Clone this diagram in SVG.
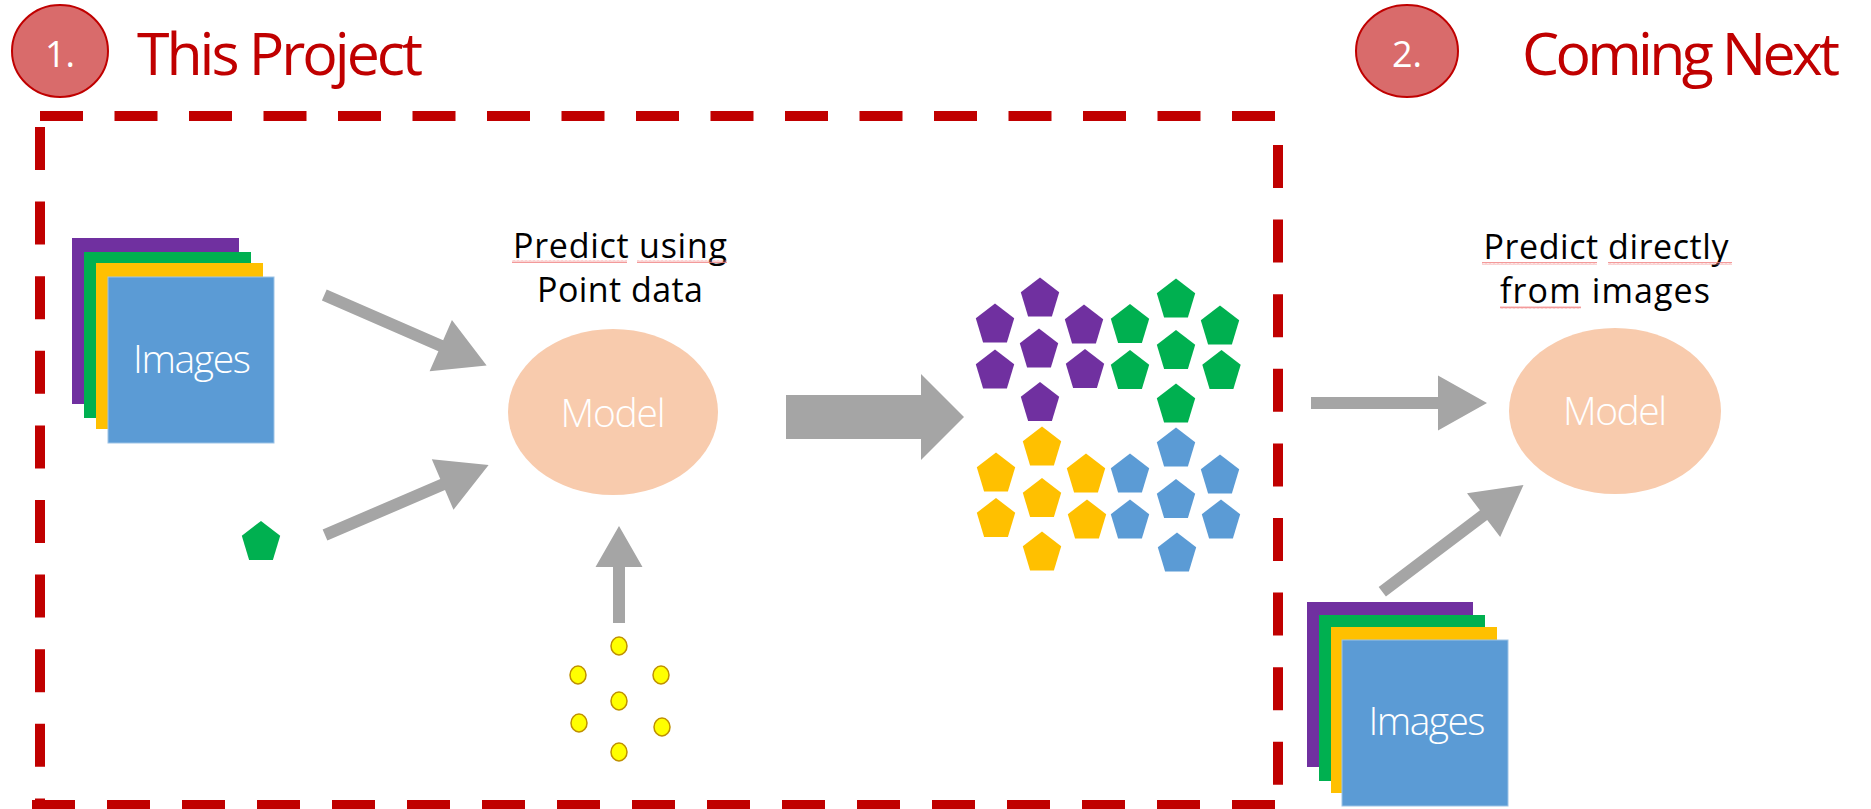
<svg xmlns="http://www.w3.org/2000/svg" xmlns:xlink="http://www.w3.org/1999/xlink" width="1871" height="809" viewBox="0 0 1871 809">
<style>
.badge{fill:#D96B6B;stroke:#C00000;stroke-width:2}
.badgetxt{font-family:"Open Sans","Noto Sans","Liberation Sans",sans-serif;font-size:36px;fill:#FFFFFF;text-anchor:middle}
.title{font-family:"Open Sans","Noto Sans","Liberation Sans",sans-serif;font-size:59px;fill:#C00000}
.frame{stroke:#C00000;stroke-width:10;fill:none}
.lbl{font-family:"Open Sans","Noto Sans","Liberation Sans",sans-serif;font-size:34px;fill:#000000;text-anchor:middle}
.wlbl{font-family:"Open Sans","Noto Sans","Liberation Sans",sans-serif;font-weight:300;font-size:39px;fill:#FFFFFF;text-anchor:middle}
.model{fill:#F8CBAD}
.arrow{fill:#A5A5A5}
.dot{fill:#FFFF00;stroke:#BF9000;stroke-width:1.5}
.pu{fill:#7030A0}.gr{fill:#00B050}.ye{fill:#FFC000}.bl{fill:#5B9BD5}
.sq{fill:url(#wave)}
</style>
<defs>
<polygon id="pent" points="0,-21.5 19.2,-6.8 11.9,17.5 -11.9,17.5 -19.2,-6.8"/>
<pattern id="wave" width="4" height="3" patternUnits="userSpaceOnUse">
<path d="M0,2.5 L1,0.5 L2,2.5 L3,0.5 L4,2.5" fill="none" stroke="#F08080" stroke-width="0.8"/>
</pattern>
</defs>

<g id="header1">
<ellipse class="badge" cx="60" cy="51" rx="48" ry="46"/>
<text class="badgetxt" x="60" y="67">1.</text>
<text class="title" x="137" y="75" textLength="286">This Project</text>
</g>
<g id="header2">
<ellipse class="badge" cx="1407" cy="51" rx="51" ry="46"/>
<text class="badgetxt" x="1407" y="67">2.</text>
<text class="title" x="1522" y="75" textLength="318">Coming Next</text>
</g>

<g id="frame">
<line class="frame" x1="40" y1="116" x2="1283" y2="116" stroke-dasharray="43 31.5"/>
<line class="frame" x1="1278" y1="145" x2="1278" y2="790" stroke-dasharray="43 31.6"/>
<line class="frame" x1="1275" y1="805" x2="32" y2="805" stroke-dasharray="43 32"/>
<line class="frame" x1="40" y1="127" x2="40" y2="800" stroke-dasharray="43 31.6"/>
</g>

<g id="images-left">
<rect class="pu" x="72" y="238" width="167" height="166"/>
<rect class="gr" x="84" y="252" width="167" height="166"/>
<rect class="ye" x="96" y="263" width="167" height="166"/>
<rect class="bl" x="108" y="277" width="166" height="166" stroke="#9DC3E6" stroke-width="1"/>
<text class="wlbl" x="192" y="373" textLength="118">Images</text>
</g>

<g id="point-left">
<use href="#pent" x="261" y="542.5" class="gr"/>
</g>

<g id="label-left">
<text class="lbl" x="620" y="258" textLength="214">Predict using</text>
<text class="lbl" x="620" y="302" textLength="166">Point data</text>
<rect class="sq" x="512" y="260" width="115" height="3"/>
<rect class="sq" x="637" y="260" width="90" height="3"/>
</g>

<g id="model-left">
<ellipse class="model" cx="613" cy="412" rx="105" ry="83"/>
<text class="wlbl" x="613" y="427" textLength="105">Model</text>
</g>

<g id="points-yellow">
<ellipse class="dot" cx="619" cy="646" rx="8" ry="9"/>
<ellipse class="dot" cx="578" cy="675" rx="8" ry="9"/>
<ellipse class="dot" cx="661" cy="675" rx="8" ry="9"/>
<ellipse class="dot" cx="619" cy="701" rx="8" ry="9"/>
<ellipse class="dot" cx="579" cy="723" rx="8" ry="9"/>
<ellipse class="dot" cx="662" cy="727" rx="8" ry="9"/>
<ellipse class="dot" cx="619" cy="752" rx="8" ry="9"/>
</g>

<g id="clusters">
<use href="#pent" x="1040" y="299" class="pu"/>
<use href="#pent" x="995" y="325" class="pu"/>
<use href="#pent" x="1084" y="326" class="pu"/>
<use href="#pent" x="1039" y="350" class="pu"/>
<use href="#pent" x="995" y="371" class="pu"/>
<use href="#pent" x="1085" y="370.5" class="pu"/>
<use href="#pent" x="1040" y="403.5" class="pu"/>

<use href="#pent" x="1176" y="300" class="gr"/>
<use href="#pent" x="1130" y="325.5" class="gr"/>
<use href="#pent" x="1220" y="327" class="gr"/>
<use href="#pent" x="1176" y="351.5" class="gr"/>
<use href="#pent" x="1130" y="371.5" class="gr"/>
<use href="#pent" x="1221.5" y="371.5" class="gr"/>
<use href="#pent" x="1176" y="405" class="gr"/>

<use href="#pent" x="1042" y="448" class="ye"/>
<use href="#pent" x="996" y="474" class="ye"/>
<use href="#pent" x="1086" y="475" class="ye"/>
<use href="#pent" x="1042" y="499.5" class="ye"/>
<use href="#pent" x="996" y="519.5" class="ye"/>
<use href="#pent" x="1087" y="521" class="ye"/>
<use href="#pent" x="1042" y="553" class="ye"/>

<use href="#pent" x="1176" y="449" class="bl"/>
<use href="#pent" x="1130" y="475" class="bl"/>
<use href="#pent" x="1220" y="476" class="bl"/>
<use href="#pent" x="1176" y="500.5" class="bl"/>
<use href="#pent" x="1130" y="521" class="bl"/>
<use href="#pent" x="1221" y="521" class="bl"/>
<use href="#pent" x="1177" y="554" class="bl"/>
</g>

<g id="label-right">
<text class="lbl" x="1606" y="259" textLength="245">Predict directly</text>
<text class="lbl" x="1605" y="303" textLength="210">from images</text>
<rect class="sq" x="1482" y="262" width="115" height="3"/>
<rect class="sq" x="1608" y="262" width="124" height="3"/>
<rect class="sq" x="1500" y="306" width="81" height="3"/>
</g>

<g id="model-right">
<ellipse class="model" cx="1615" cy="411" rx="106" ry="83"/>
<text class="wlbl" x="1615" y="425" textLength="104">Model</text>
</g>

<g id="images-right">
<rect class="pu" x="1307" y="602" width="166" height="165"/>
<rect class="gr" x="1319" y="615" width="166" height="166"/>
<rect class="ye" x="1331" y="627" width="166" height="166"/>
<rect class="bl" x="1342" y="640" width="166" height="166" stroke="#9DC3E6" stroke-width="1"/>
<text class="wlbl" x="1427" y="735" textLength="117">Images</text>
</g>

<g id="connectors">
<path class="arrow" transform="translate(324.3,295) rotate(23.5)" d="M0,-6 L127,-6 L127,-28 L177,0 L127,28 L127,6 L0,6 Z"/>
<path class="arrow" transform="translate(325,535) rotate(-23.2)" d="M0,-6 L128,-6 L128,-27.5 L178,0 L128,27.5 L128,6 L0,6 Z"/>
<polygon class="arrow" points="613,623 613,567 595.5,567 619,526 642.5,567 625,567 625,623"/>
<polygon class="arrow" points="786,395 921,395 921,374 964,417 921,460 921,439 786,439"/>
<polygon class="arrow" points="1311,397 1438,397 1438,375.5 1487,403 1438,430.5 1438,409 1311,409"/>
<path class="arrow" transform="translate(1382.3,591.7) rotate(-37.1)" d="M0,-6 L127,-6 L127,-27.5 L177,0 L127,27.5 L127,6 L0,6 Z"/>
</g>
</svg>
